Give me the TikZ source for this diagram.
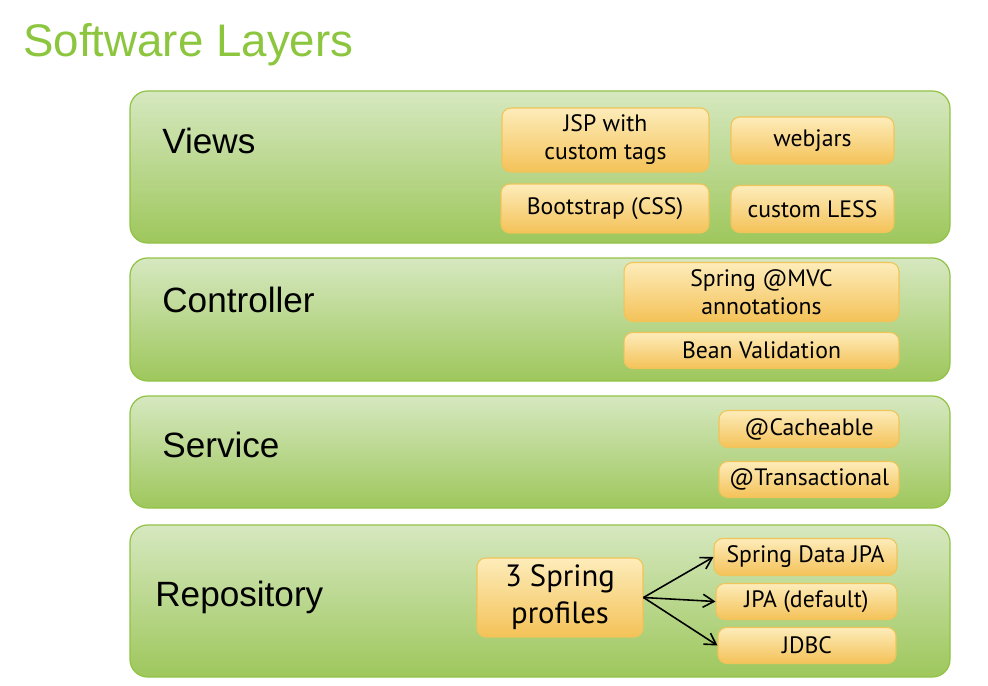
\documentclass[tikz,border=0pt]{standalone}
\usepackage{fontspec}
\setmainfont{Liberation Sans}
\newfontfamily\tagfont{PT Sans}
\usetikzlibrary{arrows.meta}

\definecolor{titlegreen}{RGB}{140,198,63}
\definecolor{layertop}{RGB}{214,232,192}
\definecolor{layerbot}{RGB}{158,199,92}
\definecolor{layerline}{RGB}{146,194,70}
\definecolor{tagtop}{RGB}{253,236,186}
\definecolor{tagbot}{RGB}{244,194,88}
\definecolor{tagline}{RGB}{240,196,88}

\tikzset{
  layer/.style={draw=layerline, line width=0.7pt, top color=layertop, bottom color=layerbot, rounded corners=10pt},
  layername/.style={anchor=west, inner sep=0pt, font=\fontsize{20}{24}\selectfont},
  tag/.style={draw=tagline, line width=0.6pt, top color=tagtop, bottom color=tagbot, rounded corners=5pt,
    inner sep=0pt, align=center, font=\tagfont\fontsize{13.5}{16}\selectfont},
  pick/.style={-{Straight Barb[length=2.2mm,width=2.6mm]}, line width=0.9pt}
}

\begin{document}
\begin{tikzpicture}[x=0.02cm, y=-0.02cm]
\useasboundingbox (0,0) rectangle (988,686);

\node[anchor=base west, text=titlegreen, inner sep=0pt, font=\fontsize{26}{30}\selectfont] (title) at (23,57) {Software Layers};

% layers
\draw[layer] (130,91) rectangle (950,243);
\draw[layer] (130,258) rectangle (950,381);
\draw[layer] (130,396) rectangle (950,508);
\draw[layer] (130,525) rectangle (950,677);

\node[layername] (views) at (162,141) {Views};
\node[layername] (controller) at (162,300) {Controller};
\node[layername] (service) at (162,445) {Service};
\node[layername] (repository) at (155,597) {Repository};

% views
\node[tag, minimum width=4.14cm, minimum height=1.28cm] (jsp) at (605.5,140) {JSP with\\custom tags};
\node[tag, minimum width=3.26cm, minimum height=0.94cm] (webjars) at (812.5,140.5) {webjars};
\node[tag, minimum width=4.16cm, minimum height=0.98cm] (bootstrap) at (605,208.5) {Bootstrap (CSS)};
\node[tag, minimum width=3.26cm, minimum height=0.94cm] (less) at (812.5,209) {custom LESS};

% controller
\node[tag, minimum width=5.5cm, minimum height=1.18cm] (mvc) at (761.5,292) {Spring @MVC\\annotations};
\node[tag, minimum width=5.5cm, minimum height=0.72cm] (bean) at (761.5,350.5) {Bean Validation};

% service
\node[tag, minimum width=3.6cm, minimum height=0.74cm] (cache) at (809,429) {@Cacheable};
\node[tag, minimum width=3.6cm, minimum height=0.72cm] (trans) at (809,479.5) {@Transactional};

% repository
\node[tag, minimum width=3.32cm, minimum height=1.58cm, font=\tagfont\fontsize{17.5}{21}\selectfont] (profiles) at (560,597.5) {3 Spring\\profiles};
\node[tag, minimum width=3.66cm, minimum height=0.74cm] (sdjpa) at (805.5,557) {Spring Data JPA};
\node[tag, minimum width=3.62cm, minimum height=0.72cm] (jpa) at (806.5,601.5) {JPA (default)};
\node[tag, minimum width=3.56cm, minimum height=0.72cm] (jdbc) at (807,645.5) {JDBC};

\draw[pick] (profiles.east) -- (sdjpa.west);
\draw[pick] (profiles.east) -- (jpa.west);
\draw[pick] (profiles.east) -- (jdbc.west);
\end{tikzpicture}
\end{document}
